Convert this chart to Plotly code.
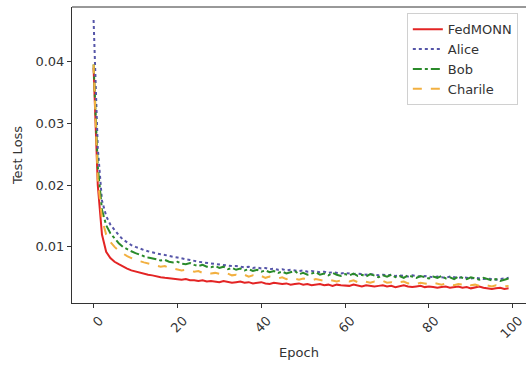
import plotly.graph_objects as go

epochs = list(range(100))

fedmonn = [0.0390,0.0200,0.0120,0.0092,0.0082,0.0076,0.0072,0.0068,0.0065,0.0062,
0.0060,0.0058,0.0056,0.0055,0.0054,0.0052,0.0051,0.0050,0.0049,0.0049,
0.0048,0.0047,0.0048,0.0046,0.0046,0.0045,0.0046,0.0044,0.0045,0.0044,
0.0043,0.0045,0.0044,0.0042,0.0043,0.0044,0.0042,0.0043,0.0041,0.0042,
0.0043,0.0041,0.0040,0.0042,0.0041,0.0040,0.0041,0.0039,0.0040,0.0041,
0.0039,0.0040,0.0038,0.0039,0.0040,0.0038,0.0039,0.0037,0.0039,0.0038,
0.0038,0.0037,0.0039,0.0037,0.0036,0.0038,0.0037,0.0036,0.0037,0.0038,
0.0036,0.0037,0.0035,0.0036,0.0038,0.0036,0.0035,0.0036,0.0037,0.0035,
0.0036,0.0035,0.0034,0.0035,0.0036,0.0034,0.0035,0.0036,0.0034,0.0035,
0.0033,0.0034,0.0036,0.0034,0.0033,0.0032,0.0033,0.0034,0.0032,0.0033]

alice = [0.0467,0.0260,0.0175,0.0150,0.0136,0.0127,0.0119,0.0112,0.0107,0.0103,
0.0100,0.0097,0.0095,0.0093,0.0091,0.0089,0.0088,0.0087,0.0085,0.0084,
0.0083,0.0081,0.0080,0.0079,0.0077,0.0076,0.0075,0.0074,0.0073,0.0072,
0.0071,0.0071,0.0070,0.0069,0.0069,0.0068,0.0067,0.0068,0.0066,0.0067,
0.0065,0.0066,0.0064,0.0065,0.0063,0.0064,0.0062,0.0063,0.0062,0.0061,
0.0062,0.0060,0.0061,0.0060,0.0059,0.0060,0.0058,0.0059,0.0058,0.0057,
0.0058,0.0057,0.0056,0.0057,0.0056,0.0055,0.0056,0.0055,0.0054,0.0055,
0.0054,0.0055,0.0053,0.0054,0.0053,0.0052,0.0054,0.0053,0.0052,0.0053,
0.0052,0.0051,0.0052,0.0051,0.0050,0.0052,0.0051,0.0050,0.0051,0.0050,
0.0049,0.0050,0.0049,0.0048,0.0049,0.0048,0.0047,0.0048,0.0049,0.0050]

bob = [0.0395,0.0230,0.0160,0.0135,0.0122,0.0113,0.0106,0.0100,0.0096,0.0093,
0.0090,0.0087,0.0085,0.0083,0.0082,0.0080,0.0078,0.0079,0.0076,0.0075,
0.0076,0.0073,0.0072,0.0074,0.0071,0.0069,0.0071,0.0068,0.0067,0.0069,
0.0066,0.0068,0.0064,0.0066,0.0063,0.0065,0.0062,0.0064,0.0061,0.0063,
0.0060,0.0062,0.0059,0.0061,0.0058,0.0060,0.0057,0.0059,0.0061,0.0056,
0.0058,0.0055,0.0057,0.0059,0.0055,0.0057,0.0054,0.0058,0.0055,0.0053,
0.0056,0.0054,0.0057,0.0053,0.0055,0.0052,0.0056,0.0053,0.0051,0.0054,
0.0052,0.0055,0.0051,0.0053,0.0050,0.0054,0.0052,0.0050,0.0053,0.0051,
0.0049,0.0052,0.0050,0.0053,0.0049,0.0051,0.0048,0.0052,0.0050,0.0048,
0.0051,0.0049,0.0047,0.0050,0.0048,0.0046,0.0048,0.0045,0.0047,0.0049]

charile = [0.0395,0.0210,0.0145,0.0120,0.0108,0.0100,0.0094,0.0089,0.0085,0.0082,
0.0079,0.0077,0.0075,0.0073,0.0072,0.0070,0.0068,0.0069,0.0066,0.0065,
0.0064,0.0062,0.0063,0.0061,0.0060,0.0061,0.0058,0.0059,0.0057,0.0058,
0.0056,0.0055,0.0057,0.0054,0.0055,0.0053,0.0055,0.0052,0.0054,0.0051,
0.0053,0.0050,0.0052,0.0051,0.0049,0.0051,0.0048,0.0050,0.0049,0.0047,
0.0049,0.0048,0.0046,0.0048,0.0047,0.0045,0.0047,0.0046,0.0044,0.0046,
0.0045,0.0044,0.0046,0.0043,0.0045,0.0044,0.0042,0.0044,0.0043,0.0045,
0.0042,0.0043,0.0041,0.0043,0.0044,0.0041,0.0042,0.0040,0.0042,0.0041,
0.0040,0.0042,0.0040,0.0039,0.0041,0.0040,0.0038,0.0040,0.0039,0.0041,
0.0038,0.0039,0.0037,0.0039,0.0038,0.0036,0.0038,0.0037,0.0036,0.0037]

x_ticks = [0, 20, 40, 60, 80, 100]
y_ticks = [0.01, 0.02, 0.03, 0.04]
y_tick_labels = ["0.01", "0.02", "0.03", "0.04"]

series = [
    ("FedMONN", fedmonn, "#e32424", "solid", 2),
    ("Alice", alice, "#5555a8", "dot", 2),
    ("Bob", bob, "#2a8a2a", "dashdot", 2),
    ("Charile", charile, "#f2b040", "dash", 2),
]

fig = go.Figure()
for name, vals, color, dash, w in series:
    fig.add_trace(go.Scatter(x=epochs, y=vals, mode="lines", name=name,
                             line=dict(color=color, dash=dash, width=w)))

font_family = "DejaVu Sans"
fig.update_layout(
    width=526, height=365,
    margin=dict(l=72, r=0, t=7, b=62),
    paper_bgcolor="white", plot_bgcolor="white",
    font=dict(family=font_family, size=13, color="#333333"),
    showlegend=True,
    legend=dict(x=0.982, y=0.979, xanchor="right", yanchor="top",
                bgcolor="white", bordercolor="#d0d0d0", borderwidth=1,
                font=dict(size=13, color="#333333")),
    xaxis=dict(range=[-5.15, 103.15], tickvals=x_ticks, tickangle=-45,
               ticks="outside", ticklen=4, tickcolor="#333333",
               showline=True, linecolor="#333333", linewidth=1,
               showgrid=False, zeroline=False,
               ticklabelshift=6, ticklabeloverflow="allow",
               title=dict(text="Epoch", font=dict(size=13), standoff=7)),
    yaxis=dict(range=[0.00093, 0.0488], tickvals=y_ticks, ticktext=y_tick_labels,
               ticks="outside", ticklen=4, tickcolor="#333333",
               showline=True, linecolor="#333333", linewidth=1,
               showgrid=False, zeroline=False,
               title=dict(text="Test Loss", font=dict(size=13), standoff=9)),
    shapes=[dict(type="line", xref="paper", yref="paper", x0=0, x1=1, y0=1, y1=1,
                 line=dict(color="#333333", width=1))],
)

fig.write_html("out.html")
